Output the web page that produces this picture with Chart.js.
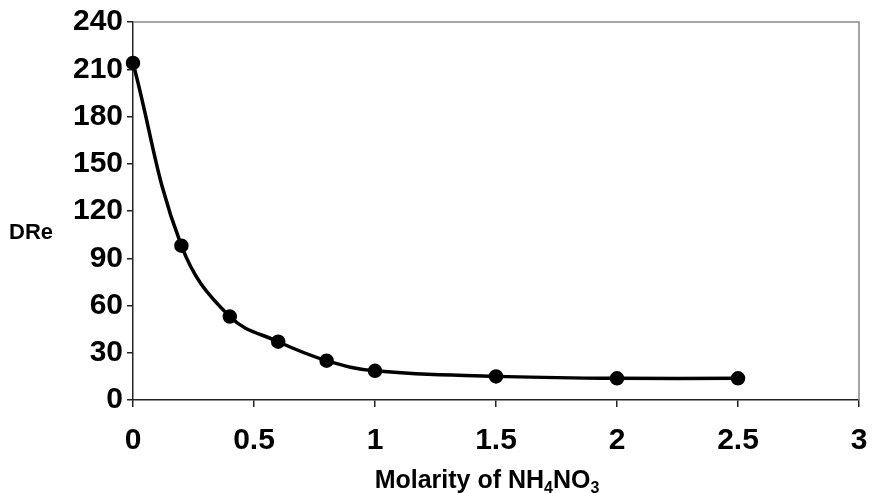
<!DOCTYPE html>
<html>
<head>
<meta charset="utf-8">
<script src="https://cdn.jsdelivr.net/npm/chart.js@4/dist/chart.umd.min.js"></script>
<style>
  html, body { margin: 0; padding: 0; background: #fff; }
  #wrap { width: 872px; height: 493px; position: relative; }
</style>
</head>
<body>
<div id="wrap"><canvas id="c"></canvas></div>
<script>
  // values
  const molarity = [0, 0.2, 0.4, 0.6, 0.8, 1, 1.5, 2, 2.5];
  const dre = [214, 98, 53, 37, 25, 18.5, 15, 13.8, 13.8];
  const xTicks = [0, 0.5, 1, 1.5, 2, 2.5, 3];
  const yTicks = [0, 30, 60, 90, 120, 150, 180, 210, 240];

  const FONT = "'Liberation Sans', Arial, sans-serif";

  // titles with subscripts + grey frame on top/right
  const extras = {
    id: "extras",
    beforeDatasetsDraw(chart) {
      const { ctx, chartArea: a } = chart;
      ctx.save();
      ctx.strokeStyle = "#888";
      ctx.lineWidth = 1.5;
      ctx.beginPath();
      ctx.moveTo(a.left, a.top);
      ctx.lineTo(a.right, a.top);
      ctx.lineTo(a.right, a.bottom);
      ctx.stroke();
      ctx.restore();
    },
    afterDraw(chart) {
      const { ctx } = chart;
      ctx.save();
      ctx.fillStyle = "#000";
      ctx.textBaseline = "alphabetic";
      ctx.textAlign = "left";

      ctx.font = "bold 22px " + FONT;
      ctx.fillText("DRe", 9, 239);

      const parts = [
        ["Molarity of NH", 25, 0], ["4", 16, 5], ["NO", 25, 0], ["3", 16, 5]
      ];
      let w = 0;
      parts.forEach(p => { ctx.font = "bold " + p[1] + "px " + FONT; w += ctx.measureText(p[0]).width; });
      let x = 487 - w / 2;
      parts.forEach(p => {
        ctx.font = "bold " + p[1] + "px " + FONT;
        ctx.fillText(p[0], x, 488 + p[2]);
        x += ctx.measureText(p[0]).width;
      });
      ctx.restore();
    }
  };

  new Chart(document.getElementById("c"), {
    type: "scatter",
    data: {
      datasets: [{
        data: molarity.map((m, i) => ({ x: m, y: dre[i] })),
        showLine: true,
        borderColor: "#000",
        backgroundColor: "#000",
        borderWidth: 3.5,
        tension: 0.4,
        pointRadius: 5.5,
        pointHoverRadius: 5.5,
        clip: false,
      }],
    },
    options: {
      responsive: true,
      maintainAspectRatio: false,
      animation: false,
      layout: { padding: { top: 22, right: 13, left: 0, bottom: 0 } },
      plugins: { legend: { display: false }, tooltip: { enabled: false } },
      scales: {
        x: {
          type: "linear",
          min: 0, max: 3,
          afterBuildTicks: (s) => { s.ticks = xTicks.map(v => ({ value: v })); },
          afterFit: (s) => { s.height = 93; s.paddingRight = 0; s.paddingLeft = 0; },
          grid: { drawOnChartArea: false, drawTicks: true, tickLength: 7, color: "#222", lineWidth: 1.5 },
          border: { color: "#222", width: 1.5 },
          ticks: { color: "#000", padding: 16, maxRotation: 0, callback: (v) => String(v), font: { family: FONT, size: 30, weight: "bold" } },
        },
        y: {
          min: 0, max: 240,
          afterBuildTicks: (s) => { s.ticks = yTicks.map(v => ({ value: v })); },
          afterFit: (s) => { s.width = 133; },
          grid: { drawOnChartArea: false, drawTicks: true, tickLength: 6, color: "#222", lineWidth: 1.5 },
          border: { color: "#222", width: 1.5 },
          ticks: { color: "#000", padding: 4, font: { family: FONT, size: 30, weight: "bold" } },
        },
      },
    },
    plugins: [extras],
  });
</script>
</body>
</html>
